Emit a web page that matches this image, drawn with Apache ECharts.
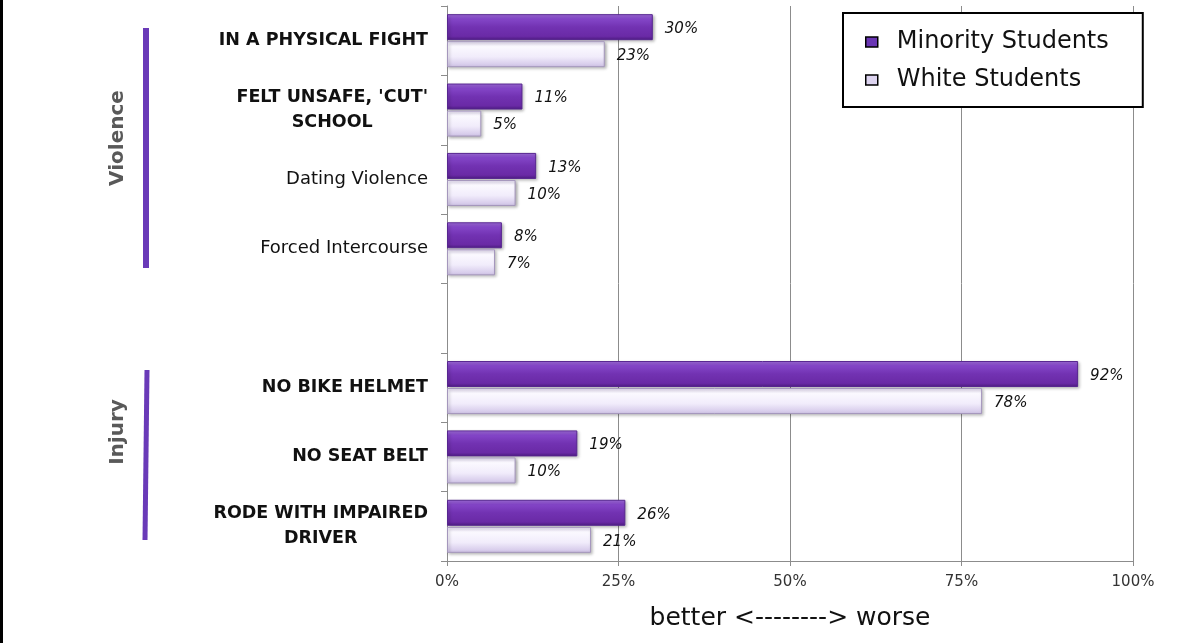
<!DOCTYPE html>
<html>
<head>
<meta charset="utf-8">
<script src="https://cdn.jsdelivr.net/npm/echarts@6/dist/echarts.min.js"></script>
<style>
  html, body { margin: 0; padding: 0; background: #fff; }
  #chart { width: 1201px; height: 643px; }
</style>
</head>
<body>
<div id="chart"></div>
<script>
// categories top to bottom, '' is the empty gap row between the two groups
const categories = [
  'IN A PHYSICAL FIGHT',
  "FELT UNSAFE, 'CUT'\nSCHOOL",
  'Dating Violence',
  'Forced Intercourse',
  '',
  'NO BIKE HELMET',
  'NO SEAT BELT',
  'RODE WITH IMPAIRED\nDRIVER'
]
const boldCats = [true, true, false, false, false, true, true, true]
const minority = [30, 11, 13, 8, null, 92, 19, 26]
const white = [23, 5, 10, 7, null, 78, 10, 21]
const xTicks = [0, 25, 50, 75, 100]

const chart = echarts.init(document.getElementById('chart'))

const purpleFill = new echarts.graphic.LinearGradient(0, 0, 0, 1, [
  { offset: 0, color: '#a873e6' },
  { offset: 0.18, color: '#8446c8' },
  { offset: 0.5, color: '#7232b2' },
  { offset: 0.85, color: '#6a2aa6' },
  { offset: 1, color: '#4e1c82' }
])
const whiteFill = new echarts.graphic.LinearGradient(0, 0, 0, 1, [
  { offset: 0, color: '#ece4fa' },
  { offset: 0.2, color: '#fbf9ff' },
  { offset: 0.6, color: '#f1ecfb' },
  { offset: 1, color: '#cfc2e6' }
])

const valueLabel = {
  show: true,
  position: 'right',
  distance: 12,
  offset: [0, 2],
  fontFamily: 'DejaVu Sans',
  fontStyle: 'italic',
  fontSize: 15,
  color: '#111',
  formatter: p => p.value + '%'
}

const option = {
  animation: false,
  backgroundColor: '#fff',
  grid: { left: 447, right: 68, top: 6, bottom: 82 },
  legend: {
    orient: 'vertical',
    left: 843,
    top: 13,
    padding: [17, 34, 15, 22],
    itemGap: 14,
    itemWidth: 12,
    itemHeight: 10,
    borderColor: '#000',
    borderWidth: 2,
    backgroundColor: '#fff',
    textStyle: { fontFamily: 'DejaVu Sans', fontSize: 24, color: '#111', padding: [0, 0, 0, 14] },
    data: [
      { name: 'Minority Students', icon: 'rect', itemStyle: { color: '#6a36b4', borderColor: '#000', borderWidth: 1.5 } },
      { name: 'White Students', icon: 'rect', itemStyle: { color: '#ddd4f0', borderColor: '#000', borderWidth: 1.5 } }
    ]
  },
  xAxis: {
    type: 'value',
    min: 0,
    max: 100,
    interval: 25,
    name: 'better <--------> worse',
    nameLocation: 'middle',
    nameGap: 45,
    nameTextStyle: { fontFamily: 'DejaVu Sans', fontSize: 25, color: '#111' },
    axisLine: { show: true, lineStyle: { color: '#8c8c8c' } },
    axisTick: { show: true, length: 5, lineStyle: { color: '#8c8c8c' } },
    axisLabel: {
      margin: 14,
      fontFamily: 'DejaVu Sans',
      fontSize: 15,
      color: '#333',
      formatter: v => xTicks.indexOf(v) >= 0 ? v + '%' : ''
    },
    splitLine: { show: true, lineStyle: { color: '#8c8c8c', width: 1 } }
  },
  yAxis: {
    type: 'category',
    inverse: true,
    data: categories,
    axisLine: { show: true, lineStyle: { color: '#8c8c8c' } },
    axisTick: { show: true, length: 6, lineStyle: { color: '#8c8c8c' } },
    axisLabel: {
      margin: 19,
      align: 'right',
      formatter: (v, i) => boldCats[i] ? '{b|' + v.split('\n').join('}\n{b|') + '}' : '{n|' + v + '}',
      rich: {
        b: { fontFamily: 'DejaVu Sans', fontWeight: 'bold', fontSize: 17.5, color: '#111', lineHeight: 25, align: 'center' },
        n: { fontFamily: 'DejaVu Sans', fontSize: 18, color: '#111', lineHeight: 25 }
      }
    }
  },
  series: [
    {
      name: 'Minority Students',
      type: 'bar',
      data: minority,
      barWidth: 26,
      barGap: '4%',
      itemStyle: {
        color: purpleFill,
        borderColor: '#56258f',
        borderWidth: 1,
        shadowColor: 'rgba(0,0,0,0.3)',
        shadowBlur: 3,
        shadowOffsetX: 1.5,
        shadowOffsetY: 1.5
      },
      label: valueLabel
    },
    {
      name: 'White Students',
      type: 'bar',
      data: white,
      barWidth: 26,
      barGap: '4%',
      itemStyle: {
        color: whiteFill,
        borderColor: '#a496bc',
        borderWidth: 1,
        shadowColor: 'rgba(0,0,0,0.3)',
        shadowBlur: 3,
        shadowOffsetX: 1.5,
        shadowOffsetY: 1.5
      },
      label: valueLabel
    }
  ],
  graphic: [
    // left frame edge
    { type: 'rect', shape: { x: 0, y: 0, width: 3, height: 643 }, style: { fill: '#000' } },
    // group markers
    { type: 'rect', shape: { x: 143, y: 28, width: 6, height: 240 }, style: { fill: '#6a3ab8' } },
    { type: 'line', shape: { x1: 147, y1: 370, x2: 145, y2: 540 }, style: { stroke: '#6a3ab8', lineWidth: 5 } },
    {
      type: 'text', x: 118, y: 138, rotation: Math.PI / 2,
      style: { text: 'Violence', fontFamily: 'DejaVu Sans', fontWeight: 'bold', fontSize: 20, fill: '#595959', align: 'center', verticalAlign: 'middle' }
    },
    {
      type: 'text', x: 118, y: 432, rotation: Math.PI / 2,
      style: { text: 'Injury', fontFamily: 'DejaVu Sans', fontWeight: 'bold', fontSize: 20, fill: '#595959', align: 'center', verticalAlign: 'middle' }
    }
  ]
}

chart.setOption(option)
window.addEventListener('resize', () => {
  chart.resize()
})
</script>
</body>
</html>
